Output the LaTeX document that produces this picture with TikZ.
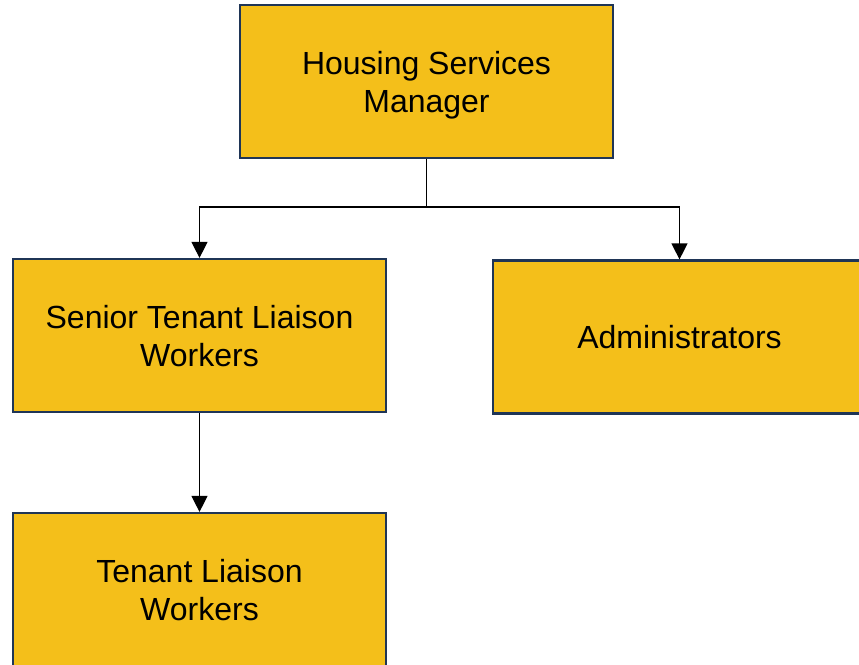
\documentclass[tikz,border=0pt]{standalone}
\usepackage{fontspec}
\setmainfont{Liberation Sans}
\usetikzlibrary{arrows.meta}
\definecolor{boxfill}{HTML}{F4BF1A}
\definecolor{boxline}{HTML}{1F3556}
\begin{document}
\begin{tikzpicture}[x=1pt,y=-1pt,
  box/.style={draw=boxline, fill=boxfill, line width=2.2pt, minimum width=373pt, minimum height=153pt, inner sep=0pt, align=center, text depth=0pt, font=\fontsize{32}{38}\selectfont},
  conn/.style={line width=1.2pt, draw=black, -{Triangle[width=16pt,length=16pt]}},
  link/.style={line width=1.2pt, draw=black}]
\useasboundingbox (0,0) rectangle (859,664);
\clip (0,0) rectangle (859,664);
\node[box] (top) at (426.5,81.5) {Housing Services\\Manager};
\node[box] (senior) at (199.5,335.5) {Senior Tenant Liaison\\Workers};
\node[box] (admin) at (679.5,337) {Administrators};
\node[box] (tenant) at (199.5,589.5) {Tenant Liaison\\Workers};
\coordinate (j) at (426.5,207);
\draw[link] (top.south) -- (j);
\draw[conn] (j) -| (senior.north);
\draw[conn] (j) -| (admin.north);
\draw[conn] (senior.south) -- (tenant.north);
\end{tikzpicture}
\end{document}
